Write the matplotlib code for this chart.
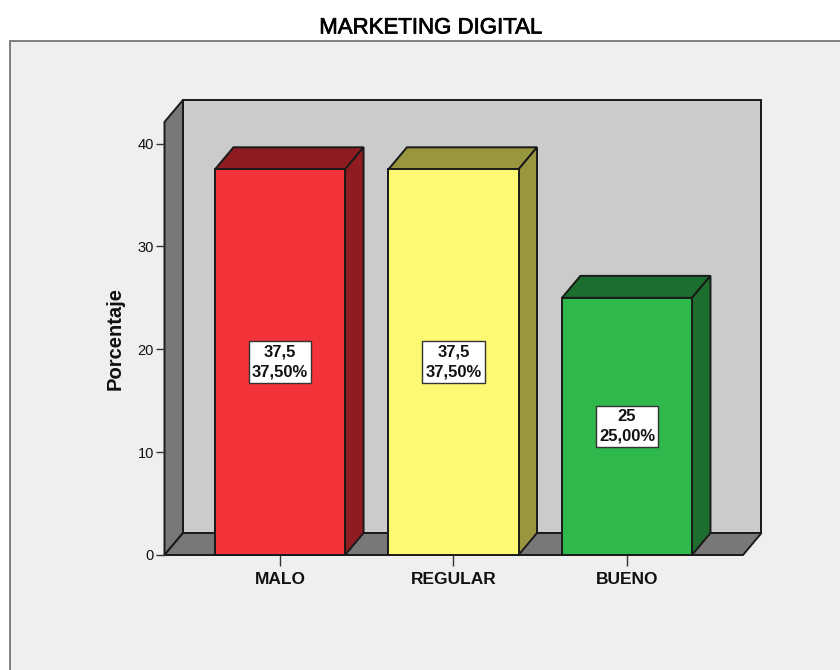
import matplotlib
matplotlib.use('Agg')
import matplotlib.pyplot as plt
import matplotlib.patheffects as pe
from matplotlib.patches import Polygon, Rectangle

plt.rcParams['font.family'] = ['Liberation Sans', 'DejaVu Sans']

categories = ['MALO', 'REGULAR', 'BUENO']
values = [37.5, 37.5, 25]
percent_labels = ['37,50%', '37,50%', '25,00%']
value_labels = ['37,5', '37,5', '25']
front_colors = ['#f23339', '#fdf972', '#2fb84c']
dark_colors = ['#8f1c20', '#98963f', '#1c6e2e']
y_ticks = [0, 10, 20, 30, 40]

W, H = 840, 670
bar_width = 0.75
# depth of the fake 3d box in data units
dx = 0.1066
dy = 2.14
x_left, x_right = -0.666, 2.669
y_top = 42.1
edge = '#1a1a1a'
lw = 1.4

fig = plt.figure(figsize=(W / 100, H / 100), dpi=100, facecolor='white')

# grey panel, runs off the right and bottom of the image
fig.add_artist(Rectangle((10 / W, -0.02), 0.99, 1 - 41 / H + 0.02, transform=fig.transFigure,
                         facecolor='#efefef', edgecolor='#7f7f7f', linewidth=1.4, zorder=-1))

ax = fig.add_axes([164.5 / W, 1 - 555 / H, 578.5 / W, 433 / H])
ax.set_xlim(x_left, x_right)
ax.set_ylim(0, y_top)
ax.patch.set_visible(False)
for s in ax.spines.values():
    s.set_visible(False)


def poly(pts, fc, z):
    ax.add_patch(Polygon(pts, closed=True, facecolor=fc, edgecolor=edge, linewidth=lw,
                         joinstyle='miter', clip_on=False, zorder=z))


# back wall, side wall, floor
poly([(x_left + dx, dy), (x_right + dx, dy), (x_right + dx, y_top + dy), (x_left + dx, y_top + dy)], '#cbcbcb', 1)
poly([(x_left, 0), (x_left + dx, dy), (x_left + dx, y_top + dy), (x_left, y_top)], '#787878', 1.1)
poly([(x_left, 0), (x_right, 0), (x_right + dx, dy), (x_left + dx, dy)], '#787878', 1.2)

xs = range(len(categories))
ax.bar(xs, values, width=bar_width, color=front_colors, edgecolor=edge, linewidth=lw, zorder=3, clip_on=False)

for x, v, dark in zip(xs, values, dark_colors):
    l, r = x - bar_width / 2, x + bar_width / 2
    poly([(l, v), (r, v), (r + dx, v + dy), (l + dx, v + dy)], dark, 2.5)
    poly([(r, 0), (r + dx, dy), (r + dx, v + dy), (r, v)], dark, 2.5)

for x, v, a, b in zip(xs, values, value_labels, percent_labels):
    ax.text(x, v / 2, f'{a}\n{b}', ha='center', va='center', fontsize=12, fontweight='bold',
            color='#111111', linespacing=1.4, zorder=5,
            bbox=dict(boxstyle='square,pad=0.2', facecolor='white', edgecolor='#333333', linewidth=1.0))

ax.set_yticks(y_ticks)
ax.set_yticklabels([str(t) for t in y_ticks], fontsize=10.5, color='#111111')
ax.set_xticks(list(xs))
ax.set_xticklabels(categories, fontsize=12.5, fontweight='bold', color='#111111')
ax.tick_params(axis='y', length=6.5, width=1.0, color='#333333', pad=1)
ax.tick_params(axis='x', length=8, width=1.0, color='#333333', pad=4.5)

fig.text(115 / W, 1 - 338 / H, 'Porcentaje', rotation=90, ha='center', va='center',
         fontsize=14.5, fontweight='bold', color='#111111')
fig.text(431 / W, 1 - 28 / H, 'MARKETING DIGITAL', ha='center', va='center', fontsize=16, color='black',
         path_effects=[pe.withStroke(linewidth=0.5, foreground='black')])

fig.savefig('out.png', dpi=100)
